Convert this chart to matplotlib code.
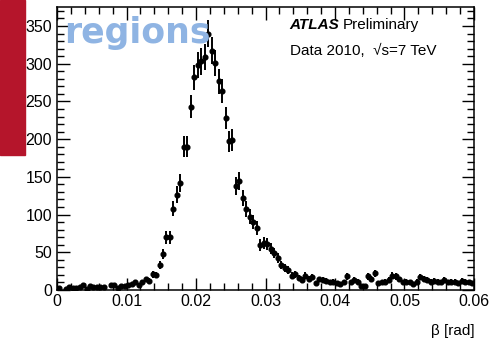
import numpy as np
import matplotlib.pyplot as plt
from matplotlib.ticker import MultipleLocator, FixedLocator

plt.rcParams['font.family'] = ['Liberation Sans', 'DejaVu Sans']

# histogram of beta, 120 bins from 0 to 0.06 rad
betaLow = 0.0
betaHigh = 0.06
nBins = 120

counts = [2, 0, 1, 4, 3, 3, 4, 7, 1, 5,
          4, 4, 4, 4, 0, 7, 6, 3, 5, 5,
          6, 8, 10, 7, 10, 14, 12, 21, 20, 33,
          48, 70, 70, 108, 126, 142, 190, 190, 243, 282,
          298, 303, 309, 340, 317, 301, 277, 264, 228, 197,
          199, 138, 145, 122, 107, 97, 90, 82, 60, 62,
          61, 55, 49, 43, 33, 29, 27, 19, 21, 16,
          13, 19, 15, 17, 9, 14, 13, 12, 10, 11,
          9, 8, 10, 18, 10, 13, 11, 5, 5, 18,
          15, 22, 9, 10, 11, 13, 19, 18, 14, 10,
          11, 10, 8, 11, 17, 15, 13, 11, 12, 11,
          10, 13, 10, 11, 11, 9, 12, 11, 10, 9]

yTicks = [0, 50, 100, 150, 200, 250, 300, 350]
xTicks = [0, 0.01, 0.02, 0.03, 0.04, 0.05, 0.06]
xTickLabels = ["0", "0.01", "0.02", "0.03", "0.04", "0.05", "0.06"]

edges = np.linspace(betaLow, betaHigh, nBins + 1)
centers = 0.5 * (edges[:-1] + edges[1:])
counts = np.array(counts, dtype=float)
shown = counts > 0

fig = plt.figure(figsize=(5.01, 3.41), dpi=100)
ax = fig.add_axes([0.1138, 0.1496, 0.8323, 0.8294])

ax.errorbar(centers[shown], counts[shown], yerr=np.sqrt(counts[shown]),
            fmt='o', color='black', markersize=3.4, elinewidth=1.4, capsize=0)

ax.set_xlim(betaLow, betaHigh)
ax.set_ylim(0, 375)
ax.xaxis.set_major_locator(FixedLocator(xTicks))
ax.set_xticklabels(xTickLabels)
ax.xaxis.set_minor_locator(MultipleLocator(0.002))
ax.yaxis.set_major_locator(FixedLocator(yTicks))
ax.yaxis.set_minor_locator(MultipleLocator(10))
ax.tick_params(which='both', direction='in', top=True, right=True, labelsize=11.5, width=1, color='black')
ax.tick_params(which='major', length=9)
ax.tick_params(which='minor', length=5)
ax.tick_params(axis='x', pad=3)
for s in ax.spines.values():
    s.set_linewidth(1.1)

fig.text(0.948, 0.01, "β [rad]", ha='right', va='bottom', fontsize=11)

fig.text(0.578, 0.915, "ATLAS", fontsize=11, fontweight='bold', fontstyle='italic')
fig.text(0.685, 0.915, "Preliminary", fontsize=11)
fig.text(0.578, 0.84, "Data 2010,  √s=7 TeV", fontsize=11)

# bits of the slide behind the chart
fig.patches.append(plt.Rectangle((0, 0.545), 0.05, 0.455, transform=fig.transFigure,
                                 color='#b5152b', zorder=5))
fig.text(0.128, 0.874, "regions", fontsize=25, fontweight='heavy', color='#8fb4e3',
         family=['DejaVu Sans'], zorder=6)

fig.savefig("out.png", dpi=100)
